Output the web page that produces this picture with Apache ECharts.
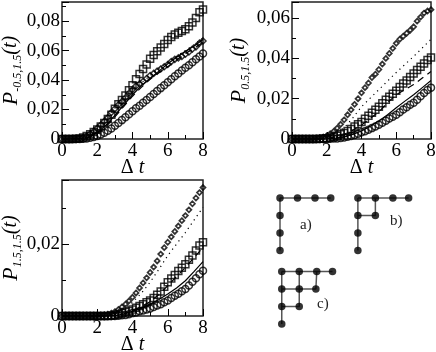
<!DOCTYPE html>
<html><head><meta charset="utf-8">
<style>html,body{margin:0;padding:0;background:#fff}#c{width:436px;height:352px}</style>
<script src="https://cdn.jsdelivr.net/npm/echarts@6/dist/echarts.min.js"></script>
</head><body><div id="c"></div>
<script>
const tMarks=[0,0.2,0.4,0.6,0.8,1,1.2,1.4,1.6,1.8,2,2.2,2.4,2.6,2.8,3,3.2,3.4,3.6,3.8,4,4.2,4.4,4.6,4.8,5,5.2,5.4,5.6,5.8,6,6.2,6.4,6.6,6.8,7,7.2,7.4,7.6,7.8,8];
const tLines=[0,0.5,1,1.5,2,2.5,3,3.5,4,4.5,5,5.5,6,6.5,7,7.5,8];

const p1Squares=[0,0,0,0,.0001,.0004,.001,.002,.0032,.0047,.0065,.0085,.0108,.0135,.0165,.0205,.0235,.0265,.0295,.033,.0365,.0405,.044,.0475,.0505,.0545,.057,.0595,.062,.0645,.0672,.0692,.0708,.072,.0732,.0745,.0765,.079,.082,.086,.0878];
const p1Diamonds=[0,0,0,0,.0001,.0004,.001,.002,.0035,.0053,.0073,.0095,.012,.0145,.018,.0205,.0232,.0255,.028,.031,.0335,.036,.0375,.039,.041,.043,.0445,.046,.0475,.049,.0505,.0525,.054,.055,.056,.0575,.059,.061,.0625,.065,.0665];
const p1Circles=[0,0,0,0,0,0,.0002,.0004,.0008,.0013,.002,.003,.0042,.0056,.0072,.009,.0108,.0128,.0148,.0168,.0188,.0208,.0226,.0246,.0265,.0285,.0305,.0325,.0345,.0365,.0385,.0405,.0425,.0445,.0465,.0483,.05,.052,.054,.056,.058];
const p1Dashed=[0,0,.0002,.001,.0035,.0085,.015,.022,.029,.035,.0405,.045,.049,.0535,.058,.0615,.0655];
const p1Solid=[0,0,.0002,.0012,.0042,.0095,.016,.023,.03,.036,.041,.046,.051,.0555,.0595,.063,.0675];
const p1Dotted=[0,0,.0003,.0015,.006,.012,.019,.026,.0325,.038,.043,.048,.052,.056,.06,.064,.0685];

const p2Diamonds=[0,0,0,0,0,0,.0001,.0002,.0005,.001,.0016,.0026,.0038,.0054,.0073,.0095,.012,.0145,.0172,.02,.0229,.0255,.0278,.0305,.0322,.0345,.0372,.04,.0425,.045,.0475,.0495,.051,.0525,.054,.0557,.0585,.0605,.0625,.0635,.0642];
const p2Squares=[0,0,0,0,0,0,0,0,.0001,.0002,.0004,.0007,.0011,.0016,.0023,.003,.004,.005,.0062,.0073,.0085,.01,.0115,.013,.0145,.016,.0178,.0195,.021,.0225,.024,.0258,.0275,.029,.0308,.0325,.0342,.0358,.0375,.0392,.0405];
const p2Circles=[0,0,0,0,0,0,0,0,0,0,0,.0001,.0002,.0003,.0005,.0008,.0011,.0015,.002,.0026,.0033,.0039,.0046,.0054,.0062,.0071,.0081,.0091,.0102,.0111,.012,.0133,.0146,.0158,.017,.018,.0195,.0212,.0228,.0243,.0255];
const p2Dotted=[0,0,0,.0001,.001,.0028,.0055,.0105,.016,.0203,.0245,.0288,.033,.037,.041,.0452,.0495];
const p2Dashed=[0,0,0,0,.0003,.001,.0022,.0043,.007,.0102,.0135,.018,.022,.0245,.027,.0303,.0335];
const p2Solid=[0,0,0,0,.0001,.0004,.001,.0023,.004,.0063,.009,.012,.0155,.0188,.022,.0255,.029];

const p3Diamonds=[0,0,0,0,0,0,0,0,0,0,.0001,.0002,.0003,.0005,.0008,.0012,.0018,.0025,.0033,.0042,.0052,.0064,.0078,.0092,.0106,.0121,.0136,.0153,.0172,.019,.0205,.022,.0235,.025,.0265,.0279,.0295,.0312,.0328,.0343,.0357];
const p3Squares=[0,0,0,0,0,0,0,0,0,0,0,0,0,0,.0001,.0003,.0005,.0008,.0011,.0014,.0018,.0023,.0028,.0033,.0038,.0043,.005,.0059,.0068,.0081,.0094,.0104,.0114,.0125,.0134,.0144,.0156,.0168,.0182,.0196,.0205];
const p3Circles=[0,0,0,0,0,0,0,0,0,0,0,0,0,0,0,0,.0001,.0002,.0003,.0005,.0008,.001,.0013,.0015,.0018,.0021,.0025,.0029,.0033,.0038,.0043,.005,.0056,.0062,.0069,.0075,.0085,.0095,.0105,.0116,.0126];
const p3Dotted=[0,0,0,0,0,.0001,.0006,.0018,.0038,.0063,.0094,.013,.0168,.02,.0232,.0267,.0302];
const p3Dashed=[0,0,0,0,0,0,.0001,.0006,.0015,.0026,.004,.006,.0084,.011,.0135,.0163,.019];
const p3Solid=[0,0,0,0,0,0,.0001,.0005,.0013,.0022,.0033,.0046,.0061,.0078,.0098,.0124,.0151];

const nodesA=[[0,0],[1,0],[2,0],[2.9,0],[0,1],[0,2],[0,3]];
const edgesA=[[0,0],[2.9,0],null,[0,0],[0,3]];
const nodesB=[[4.45,0],[5.45,0],[6.45,0],[7.35,0],[4.45,1],[5.45,1],[4.45,2],[4.45,3]];
const edgesB=[[4.45,0],[7.35,0],null,[4.45,0],[4.45,3],null,[4.45,1],[5.45,1],[5.45,0]];
const nodesC=[[0.1,4.2],[1.1,4.2],[2.1,4.2],[3,4.2],[0.1,5.2],[1.1,5.2],[2.05,5.2],[0.1,6.2],[1.1,6.2],[0.1,7.2]];
const edgesC=[[0.1,4.2],[3,4.2],null,[0.1,5.2],[2.05,5.2],[2.1,4.2],null,[0.1,6.2],[1.1,6.2],[1.1,4.2],null,[0.1,4.2],[0.1,7.2]];

const serif='"Liberation Serif","Times New Roman",serif';
const grids=[
 {left:62,top:2,width:141,height:137},
 {left:292,top:2,width:139,height:137},
 {left:62,top:180,width:141,height:136},
 {left:262.5,top:180.5,width:175,height:157.5}
].map((g,i)=>Object.assign(g,{show:i<3,borderColor:'#222',borderWidth:1.5,backgroundColor:'transparent',outerBoundsMode:'none',containLabel:false}));

const yNames=['-0.5,1.5','0.5,1.5','1.5,1.5'];
const yMax=[.0929,.068,.0378];
const yNameGap=[38,40,38];
const xAxes=[0,1,2].map(i=>({
  type:'value',gridIndex:i,min:0,max:8,interval:2,
  name:'{u|Δ }{i|t}',nameLocation:'middle',nameGap:19,nameMoveOverlap:false,
  nameTextStyle:{rich:{u:{fontFamily:serif,fontSize:20,color:'#000'},i:{fontFamily:serif,fontSize:20,fontStyle:'italic',color:'#000'}}},
  axisLine:{show:false},splitLine:{show:false},
  axisTick:{inside:true,length:7,lineStyle:{color:'#000',width:1}},
  minorTick:{show:true,splitNumber:2,length:4,lineStyle:{color:'#000',width:1}},
  axisLabel:{fontFamily:serif,fontSize:19,color:'#000',margin:3,showMinLabel:true,showMaxLabel:true,hideOverlap:false}
}));
const yAxes=[0,1,2].map(i=>({
  type:'value',gridIndex:i,min:0,max:yMax[i],interval:.02,
  name:'{p|P}{s|'+yNames[i]+'}{t|(t)}',nameLocation:'middle',nameGap:yNameGap[i],nameRotate:90,nameMoveOverlap:false,
  nameTextStyle:{rich:{
    p:{fontFamily:serif,fontSize:22,fontStyle:'italic',color:'#000'},
    s:{fontFamily:serif,fontSize:12,fontStyle:'italic',color:'#000',verticalAlign:'bottom',lineHeight:26,padding:[8,0,0,0]},
    t:{fontFamily:serif,fontSize:20,fontStyle:'italic',color:'#000'}}},
  axisLine:{show:false},splitLine:{show:false},
  axisTick:{inside:true,length:7,lineStyle:{color:'#000',width:1}},
  minorTick:{show:true,splitNumber:2,length:4,lineStyle:{color:'#000',width:1}},
  axisLabel:{fontFamily:serif,fontSize:19,color:'#000',margin:2,showMaxLabel:false,hideOverlap:false,
    formatter:v=>v===0?'0':v.toFixed(2).replace('.',',')}
}));
xAxes.push({type:'value',gridIndex:3,min:-1,max:9,show:false});
yAxes.push({type:'value',gridIndex:3,min:-1,max:8,inverse:true,show:false});

const zip=(xs,ys)=>xs.map((x,i)=>[x,ys[i]]);
const marks=(i,ys,symbol,size,bw)=>({type:'scatter',xAxisIndex:i,yAxisIndex:i,data:zip(tMarks,ys),symbol,symbolSize:size,clip:false,silent:true,z:3,
  itemStyle:{color:'transparent',borderColor:'#000',borderWidth:bw}});
const curve=(i,ys,type)=>({type:'line',xAxisIndex:i,yAxisIndex:i,data:zip(tLines,ys),showSymbol:false,silent:true,z:2,
  lineStyle:{color:'#000',width:1.2,type:type==='dashed'?[7,5]:type==='dotted'?[1.2,4]:'solid'}});
const diagEdges=e=>({type:'line',xAxisIndex:3,yAxisIndex:3,data:e.map(p=>p===null?[null,null]:p),connectNulls:false,showSymbol:false,silent:true,z:2,
  lineStyle:{color:'#555',width:1.5}});
const diagNodes=n=>({type:'scatter',xAxisIndex:3,yAxisIndex:3,data:n,symbol:'circle',symbolSize:7.5,silent:true,z:3,itemStyle:{color:'#000'}});

const series=[
 curve(0,p1Dotted,'dotted'),curve(0,p1Solid,'solid'),curve(0,p1Dashed,'dashed'),
 marks(0,p1Squares,'rect',7,1.5),marks(0,p1Diamonds,'diamond',6,1.5),marks(0,p1Circles,'circle',7,1.5),
 curve(1,p2Dotted,'dotted'),curve(1,p2Solid,'solid'),curve(1,p2Dashed,'dashed'),
 marks(1,p2Diamonds,'diamond',5,1.7),marks(1,p2Squares,'rect',7,1.5),marks(1,p2Circles,'circle',7,1.5),
 curve(2,p3Dotted,'dotted'),curve(2,p3Solid,'solid'),curve(2,p3Dashed,'dashed'),
 marks(2,p3Diamonds,'diamond',5,1.7),marks(2,p3Squares,'rect',7,1.5),marks(2,p3Circles,'circle',7,1.5),
 diagEdges(edgesA),diagEdges(edgesB),diagEdges(edgesC),
 diagNodes(nodesA),diagNodes(nodesB),diagNodes(nodesC)
];
const txt=(x,y,t)=>({type:'text',left:x,top:y,silent:true,style:{text:t,fontFamily:serif,fontSize:15,fill:'#222'}});
const chart=echarts.init(document.getElementById('c'),null,{renderer:'canvas'});
chart.setOption({animation:false,backgroundColor:'#fff',grid:grids,xAxis:xAxes,yAxis:yAxes,series,
  graphic:[txt(300,218,'a)'),txt(390,214,'b)'),txt(317,297,'c)')]});
</script></body></html>
